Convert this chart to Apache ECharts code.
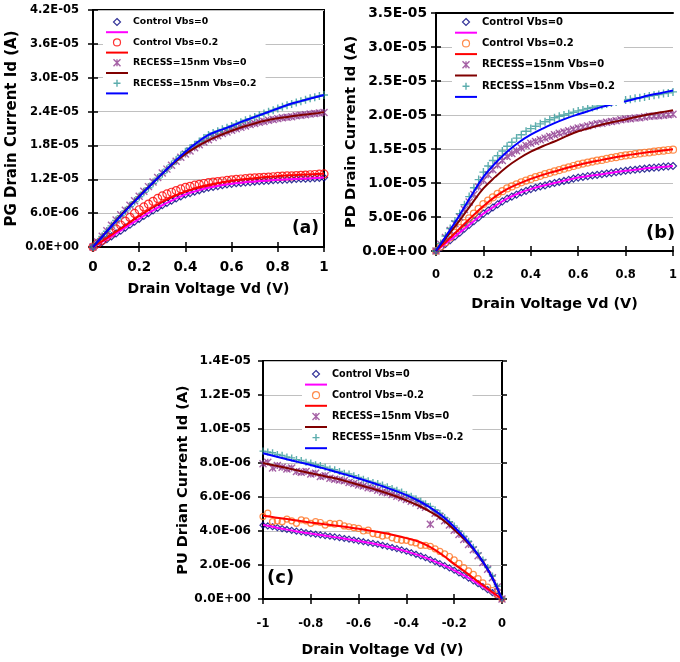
<!DOCTYPE html>
<html>
<head>
<meta charset="utf-8">
<script src="https://cdn.jsdelivr.net/npm/echarts@6/dist/echarts.min.js"></script>
<style>
html, body { margin: 0; padding: 0; background: #fff; }
#chart { width: 680px; height: 662px; }
</style>
</head>
<body>
<div id="chart"></div>
<script>
// drain voltage samples (V)
var vd = [0, 0.02, 0.04, 0.06, 0.08, 0.1, 0.12, 0.14, 0.16, 0.18,
    0.2, 0.22, 0.24, 0.26, 0.28, 0.3, 0.32, 0.34, 0.36, 0.38,
    0.4, 0.42, 0.44, 0.46, 0.48, 0.5, 0.52, 0.54, 0.56, 0.58,
    0.6, 0.62, 0.64, 0.66, 0.68, 0.7, 0.72, 0.74, 0.76, 0.78,
    0.8, 0.82, 0.84, 0.86, 0.88, 0.9, 0.92, 0.94, 0.96, 0.98, 1];
var vdNeg = [-1, -0.98, -0.96, -0.94, -0.92, -0.9, -0.88, -0.86, -0.84, -0.82,
    -0.8, -0.78, -0.76, -0.74, -0.72, -0.7, -0.68, -0.66, -0.64, -0.62,
    -0.6, -0.58, -0.56, -0.54, -0.52, -0.5, -0.48, -0.46, -0.44, -0.42,
    -0.4, -0.38, -0.36, -0.34, -0.32, -0.3, -0.28, -0.26, -0.24, -0.22,
    -0.2, -0.18, -0.16, -0.14, -0.12, -0.1, -0.08, -0.06, -0.04, -0.02, 0];
var vdFit = [0, 0.05, 0.1, 0.15, 0.2, 0.25, 0.3, 0.35, 0.4, 0.45, 0.5,
    0.55, 0.6, 0.65, 0.7, 0.75, 0.8, 0.85, 0.9, 0.95, 1];
var vdFitNeg = [-1, -0.95, -0.9, -0.85, -0.8, -0.75, -0.7, -0.65, -0.6, -0.55, -0.5,
    -0.45, -0.4, -0.35, -0.3, -0.25, -0.2, -0.15, -0.1, -0.05, 0];

// (a) PG drain current, in 1E-06 A
var pgCtrl0 = [0, 0.45, 0.9, 1.4, 1.9, 2.4, 2.9, 3.45, 3.95, 4.5,
    5.0, 5.5, 6.0, 6.5, 6.95, 7.4, 7.8, 8.2, 8.6, 8.95,
    9.3, 9.55, 9.8, 10.05, 10.3, 10.5, 10.65, 10.8, 10.95, 11.1,
    11.2, 11.3, 11.35, 11.45, 11.5, 11.6, 11.65, 11.7, 11.75, 11.85,
    11.9, 11.9, 11.95, 12.0, 12.05, 12.1, 12.1, 12.15, 12.2, 12.25, 12.3];
var pgCtrl02 = [0, 0.6, 1.2, 1.85, 2.5, 3.2, 3.9, 4.6, 5.25, 5.95,
    6.6, 7.1, 7.6, 8.1, 8.6, 9.05, 9.4, 9.7, 10.0, 10.3,
    10.55, 10.75, 10.95, 11.1, 11.25, 11.4, 11.5, 11.6, 11.7, 11.8,
    11.9, 12.0, 12.05, 12.1, 12.2, 12.25, 12.3, 12.35, 12.4, 12.45,
    12.5, 12.55, 12.6, 12.6, 12.65, 12.7, 12.75, 12.8, 12.85, 12.9, 12.95];
var pgRec0 = [0, 0.9, 1.9, 2.9, 3.85, 4.8, 5.7, 6.5, 7.4, 8.2,
    9.0, 9.9, 10.7, 11.5, 12.3, 13.1, 13.8, 14.5, 15.2, 15.9,
    16.5, 17.0, 17.6, 18.1, 18.6, 19.0, 19.4, 19.7, 20.1, 20.4,
    20.7, 20.95, 21.2, 21.45, 21.7, 21.9, 22.1, 22.25, 22.45, 22.6,
    22.75, 22.9, 23.0, 23.1, 23.25, 23.35, 23.45, 23.55, 23.65, 23.75, 23.85];
var pgRec02 = [0, 0.9, 1.85, 2.8, 3.75, 4.7, 5.55, 6.4, 7.2, 8.05,
    8.9, 9.7, 10.5, 11.3, 12.2, 13.0, 13.8, 14.6, 15.4, 16.2,
    16.9, 17.5, 18.1, 18.7, 19.3, 19.85, 20.2, 20.5, 20.85, 21.15,
    21.45, 21.8, 22.1, 22.45, 22.75, 23.05, 23.35, 23.65, 23.95, 24.25,
    24.55, 24.85, 25.1, 25.35, 25.6, 25.85, 26.1, 26.35, 26.55, 26.75, 26.95];
var pgFitCtrl0 = [0, 1.15, 2.4, 3.7, 5.0, 6.25, 7.4, 8.4, 9.3, 9.95, 10.5, 10.9, 11.2, 11.45, 11.6, 11.75, 11.9, 12.0, 12.1, 12.2, 12.3];
var pgFitCtrl02 = [0, 1.3, 2.7, 4.1, 5.5, 6.8, 8.0, 9.0, 9.8, 10.5, 11.0, 11.4, 11.75, 12.0, 12.2, 12.4, 12.55, 12.7, 12.8, 12.9, 13.0];
var pgFitRec0 = [0, 2.3, 4.7, 6.9, 9.0, 11.0, 13.0, 14.9, 16.5, 17.8, 18.9, 19.8, 20.6, 21.3, 21.9, 22.4, 22.8, 23.1, 23.4, 23.6, 23.9];
var pgFitRec02 = [0, 2.3, 4.6, 6.8, 8.9, 11.0, 13.0, 15.0, 16.9, 18.5, 19.85, 20.7, 21.45, 22.3, 23.05, 23.8, 24.55, 25.3, 25.85, 26.4, 26.95];

// (b) PD drain current, in 1E-06 A
var pdCtrl0 = [0, 0.5, 1.05, 1.6, 2.15, 2.7, 3.3, 3.85, 4.4, 4.95,
    5.5, 5.95, 6.4, 6.85, 7.3, 7.7, 8.0, 8.3, 8.6, 8.85,
    9.1, 9.3, 9.5, 9.65, 9.85, 10.0, 10.15, 10.3, 10.45, 10.65,
    10.8, 10.9, 11.0, 11.1, 11.2, 11.3, 11.4, 11.5, 11.6, 11.7,
    11.8, 11.9, 11.95, 12.05, 12.1, 12.2, 12.25, 12.3, 12.4, 12.45, 12.5];
var pdCtrl02 = [0, 0.65, 1.3, 2.0, 2.65, 3.35, 4.1, 4.8, 5.5, 6.2,
    6.9, 7.4, 7.9, 8.4, 8.8, 9.2, 9.5, 9.8, 10.1, 10.35,
    10.6, 10.85, 11.05, 11.3, 11.5, 11.7, 11.9, 12.1, 12.3, 12.5,
    12.7, 12.85, 13.0, 13.15, 13.3, 13.4, 13.55, 13.7, 13.8, 13.95,
    14.05, 14.15, 14.25, 14.35, 14.45, 14.5, 14.6, 14.7, 14.75, 14.85, 14.9];
var pdRec0 = [0, 1.0, 2.0, 3.0, 4.0, 5.0, 6.1, 7.2, 8.3, 9.4,
    10.4, 11.2, 11.95, 12.65, 13.3, 13.9, 14.35, 14.75, 15.15, 15.5,
    15.85, 16.1, 16.35, 16.6, 16.85, 17.1, 17.3, 17.5, 17.7, 17.9,
    18.1, 18.25, 18.4, 18.55, 18.7, 18.8, 18.95, 19.05, 19.15, 19.3,
    19.4, 19.45, 19.55, 19.6, 19.7, 19.8, 19.85, 19.9, 19.95, 20.05, 20.1];
var pdRec02 = [0, 1.1, 2.2, 3.3, 4.4, 5.5, 6.8, 8.0, 9.3, 10.5,
    11.6, 12.5, 13.3, 14.0, 14.7, 15.4, 16.0, 16.6, 17.1, 17.6,
    18.0, 18.35, 18.7, 19.0, 19.3, 19.6, 19.8, 20.0, 20.2, 20.4,
    20.6, 20.75, 20.95, 21.1, 21.3, 21.45, 21.6, 21.75, 21.9, 22.05,
    22.2, 22.3, 22.45, 22.55, 22.65, 22.8, 22.9, 23.0, 23.15, 23.25, 23.4];
var pdFitCtrl0 = [0, 1.35, 2.7, 4.1, 5.5, 6.65, 7.7, 8.5, 9.1, 9.6, 10.0, 10.4, 10.8, 11.05, 11.3, 11.55, 11.8, 12.0, 12.2, 12.35, 12.5];
var pdFitCtrl02 = [0, 1.6, 3.3, 5.0, 6.6, 8.0, 9.1, 9.9, 10.6, 11.2, 11.7, 12.2, 12.65, 13.05, 13.4, 13.75, 14.05, 14.3, 14.55, 14.75, 14.95];
var pdFitRec0 = [0, 2.3, 4.5, 6.9, 9.2, 10.9, 12.4, 13.6, 14.6, 15.4, 16.1, 16.9, 17.6, 18.1, 18.6, 19.0, 19.35, 19.75, 20.1, 20.4, 20.7];
var pdFitRec02 = [0, 2.6, 5.3, 8.2, 10.9, 12.9, 14.6, 16.0, 17.1, 18.0, 18.8, 19.5, 20.1, 20.65, 21.2, 21.6, 22.0, 22.45, 22.9, 23.25, 23.6];

// (c) PU drain current, in 1E-06 A (Vd from -1 to 0)
var puCtrl0 = [4.34, 4.3, 4.25, 4.2, 4.14, 4.09, 4.04, 3.99, 3.95, 3.9,
    3.85, 3.81, 3.77, 3.73, 3.69, 3.65, 3.61, 3.56, 3.52, 3.47,
    3.42, 3.37, 3.32, 3.27, 3.22, 3.16, 3.1, 3.03, 2.96, 2.89,
    2.81, 2.72, 2.63, 2.53, 2.43, 2.32, 2.2, 2.08, 1.96, 1.83,
    1.69, 1.54, 1.39, 1.23, 1.07, 0.9, 0.73, 0.55, 0.37, 0.18, 0];
var puCtrl02 = [4.85, 5.05, 4.55, 4.6, 4.55, 4.7, 4.6, 4.45, 4.65, 4.6,
    4.45, 4.55, 4.5, 4.35, 4.45, 4.4, 4.45, 4.3, 4.25, 4.2,
    4.15, 4.0, 4.05, 3.85, 3.8, 3.7, 3.75, 3.6, 3.5, 3.45,
    3.45, 3.35, 3.3, 3.15, 3.15, 3.1, 2.95, 2.8, 2.65, 2.5,
    2.3, 2.1, 1.85, 1.65, 1.45, 1.2, 0.95, 0.7, 0.5, 0.25, 0];
var puRec0 = [7.95, 8.05, 7.7, 7.85, 7.75, 7.65, 7.7, 7.5, 7.45, 7.5,
    7.35, 7.4, 7.2, 7.25, 7.1, 7.05, 7.0, 6.95, 6.85, 6.8,
    6.7, 6.65, 6.55, 6.5, 6.4, 6.3, 6.25, 6.15, 6.05, 5.95,
    5.85, 5.75, 5.65, 5.5, 5.4, 4.4, 5.05, 4.85, 4.6, 4.35,
    4.05, 3.8, 3.5, 3.2, 2.9, 2.55, 2.15, 1.75, 1.25, 0.7, 0];
var puRec02 = [8.7, 8.65, 8.6, 8.5, 8.45, 8.35, 8.3, 8.2, 8.15, 8.05,
    8.0, 7.9, 7.85, 7.75, 7.65, 7.6, 7.5, 7.4, 7.35, 7.25,
    7.15, 7.05, 6.95, 6.85, 6.8, 6.7, 6.6, 6.5, 6.4, 6.3,
    6.15, 6.05, 5.9, 5.75, 5.6, 5.45, 5.25, 5.05, 4.8, 4.55,
    4.3, 4.0, 3.7, 3.4, 3.05, 2.7, 2.3, 1.85, 1.35, 0.75, 0.05];
var puFitCtrl0 = [4.36, 4.22, 4.08, 3.96, 3.85, 3.75, 3.64, 3.53, 3.41, 3.29, 3.15, 2.99, 2.8, 2.58, 2.32, 2.02, 1.69, 1.31, 0.9, 0.46, 0];
var puFitCtrl02 = [4.9, 4.8, 4.7, 4.6, 4.5, 4.41, 4.32, 4.23, 4.13, 4.02, 3.9, 3.75, 3.58, 3.38, 3.05, 2.6, 2.05, 1.55, 1.02, 0.5, 0];
var puFitRec0 = [8.0, 7.85, 7.7, 7.55, 7.4, 7.25, 7.1, 6.92, 6.72, 6.52, 6.31, 6.07, 5.8, 5.5, 5.13, 4.68, 4.09, 3.42, 2.6, 1.5, 0];
var puFitRec02 = [8.57, 8.4, 8.22, 8.05, 7.88, 7.7, 7.5, 7.3, 7.09, 6.87, 6.63, 6.38, 6.11, 5.78, 5.38, 4.88, 4.24, 3.5, 2.6, 1.5, 0];

var FONT = 'DejaVu Sans';
var SYM_DIAMOND = 'path://M5,0L10,5L5,10L0,5Z';
var SYM_STAR = 'path://M0,0L10,10M10,0L0,10M5,0L5,10';
var SYM_PLUS = 'path://M5,0L5,10M0,5L10,5';
var SYM_BAR = 'path://M0,0L22,0L22,2L0,2Z';

var grids = [], xAxes = [], yAxes = [], series = [], legends = [], graphics = [];

// 4.2E-05 style labels (values are stored in 1E-06 A)
function sciLabel(v) {
    var s = (v * 1e-6).toExponential(1).toUpperCase();
    return s.replace(/E([+-])(\d)$/, function (m, sign, d) { return 'E' + sign + '0' + d; });
}

function legendText(name) {
    var t = name.split('|')[1];
    return t.charAt(0) === '~' ? ' ' : t;
}

function addPanel(p) {
    var gi = grids.length;
    grids.push({
        left: p.box[0], top: p.box[1], width: p.box[2], height: p.box[3],
        show: p.frame, borderColor: '#000', borderWidth: 2
    });
    var tickStyle = { color: '#000', width: 1.5 };

    // x axis, with a second one for the inner half of the ticks
    var xi = xAxes.length;
    xAxes.push({
        gridIndex: gi, type: 'value', min: p.xMin, max: p.xMax, interval: 0.2, position: 'bottom',
        name: 'Drain Voltage Vd (V)', nameLocation: 'middle', nameGap: p.xNameGap,
        nameTextStyle: { fontFamily: FONT, fontWeight: 'bold', fontSize: p.xNameSize, color: '#000' },
        axisLine: { onZero: false, lineStyle: { color: '#000', width: 2 } },
        axisTick: { length: 5, lineStyle: tickStyle },
        axisLabel: { fontFamily: FONT, fontWeight: 'bold', fontSize: p.xLabelSize, color: '#000', margin: p.xMargin },
        splitLine: { show: false }
    });
    xAxes.push({
        gridIndex: gi, type: 'value', min: p.xMin, max: p.xMax, interval: 0.2, position: 'bottom',
        axisLine: { show: false }, axisTick: { inside: true, length: 5, lineStyle: tickStyle },
        axisLabel: { show: false }, splitLine: { show: false }
    });
    if (!p.frame) {
        xAxes.push({
            gridIndex: gi, type: 'value', min: p.xMin, max: p.xMax, position: 'top',
            axisLine: { onZero: false, lineStyle: { color: '#000', width: 2 } },
            axisTick: { show: false }, axisLabel: { show: false }, splitLine: { show: false }
        });
    }

    var yi = yAxes.length;
    yAxes.push({
        gridIndex: gi, type: 'value', min: 0, max: p.yMax, interval: p.yStep, position: 'left',
        name: p.yName, nameLocation: 'middle', nameGap: p.yNameGap, nameRotate: 90,
        nameTextStyle: { fontFamily: FONT, fontWeight: 'bold', fontSize: p.yNameSize, color: '#000' },
        axisLine: { onZero: false, lineStyle: { color: '#000', width: 2 } },
        axisTick: { length: 5, lineStyle: tickStyle },
        axisLabel: { fontFamily: FONT, fontWeight: 'bold', fontSize: p.yLabelSize, color: '#000', margin: p.yMargin, formatter: sciLabel },
        splitLine: { lineStyle: { color: '#c0c0c0', width: 1 } }
    });
    yAxes.push({
        gridIndex: gi, type: 'value', min: 0, max: p.yMax, interval: p.yStep, position: 'left',
        axisLine: { show: false }, axisTick: { inside: true, length: 5, lineStyle: tickStyle },
        axisLabel: { show: false }, splitLine: { show: false }
    });

    var legendData = [];
    p.items.forEach(function (it, k) {
        var mName = p.key + '|' + it.label;
        var fName = p.key + '|~' + k;
        var mStyle = { color: 'transparent', borderColor: it.color, borderWidth: it.lw };
        series.push({
            type: 'scatter', name: mName, xAxisIndex: xi, yAxisIndex: yi,
            symbol: it.sym, symbolSize: it.size, itemStyle: mStyle,
            data: it.xs.map(function (x, i) { return [x, it.ys[i]]; }),
            silent: true
        });
        series.push({
            type: 'line', name: fName, xAxisIndex: xi, yAxisIndex: yi,
            symbol: 'none', smooth: 0.4, color: it.fitColor,
            lineStyle: { color: it.fitColor, width: 2 },
            data: it.fitXs.map(function (x, i) { return [x, it.fitYs[i]]; }),
            silent: true
        });
        legendData.push({ name: mName, icon: it.sym, itemStyle: mStyle });
        legendData.push({ name: fName, icon: SYM_BAR, itemStyle: { color: it.fitColor, borderWidth: 0 } });
    });

    legends.push({
        data: legendData, orient: 'vertical', left: p.legend[0], top: p.legend[1],
        itemWidth: 22, itemHeight: 7, itemGap: p.legendGap, selectedMode: false,
        symbolKeepAspect: true,
        backgroundColor: '#fff', padding: [3, 9, 3, 3], z: 10,
        textStyle: { fontFamily: FONT, fontWeight: 'bold', fontSize: p.legendSize, color: '#000', lineHeight: 10 },
        formatter: legendText
    });

    graphics.push({
        type: 'text', left: p.tag[0], top: p.tag[1], z: 20,
        style: { text: p.tagText, fontFamily: FONT, fontWeight: 'bold', fontSize: p.tagSize, fill: '#000' }
    });
}

addPanel({
    key: 'a', box: [93, 10, 231, 237], frame: true,
    xMin: 0, xMax: 1, xLabelSize: 13.5, xMargin: 13, xNameGap: 35, xNameSize: 14,
    yMax: 42, yStep: 6, yName: 'PG Drain Current Id (A)', yNameGap: 73, yNameSize: 15, yLabelSize: 11.5, yMargin: 14,
    legend: [103, 14], legendGap: 0.2, legendSize: 9.3,
    tag: [292, 220], tagText: '(a)', tagSize: 17,
    items: [
        { label: 'Control Vbs=0', xs: vd, ys: pgCtrl0, sym: SYM_DIAMOND, size: 7, lw: 1.2, color: '#000080', fitXs: vdFit, fitYs: pgFitCtrl0, fitColor: '#ff00ff' },
        { label: 'Control Vbs=0.2', xs: vd, ys: pgCtrl02, sym: 'circle', size: 8, lw: 1.2, color: '#ff0000', fitXs: vdFit, fitYs: pgFitCtrl02, fitColor: '#ff0000' },
        { label: 'RECESS=15nm Vbs=0', xs: vd, ys: pgRec0, sym: SYM_STAR, size: 7, lw: 1.4, color: '#8e3a8e', fitXs: vdFit, fitYs: pgFitRec0, fitColor: '#800000' },
        { label: 'RECESS=15nm Vbs=0.2', xs: vd, ys: pgRec02, sym: SYM_PLUS, size: 8, lw: 1.4, color: '#339999', fitXs: vdFit, fitYs: pgFitRec02, fitColor: '#0000ff' }
    ]
});

addPanel({
    key: 'b', box: [436, 13, 243, 238], frame: false,
    xMin: 0, xMax: 1, xLabelSize: 11.5, xMargin: 18, xNameGap: 46, xNameSize: 14.4,
    yMax: 35, yStep: 5, yName: 'PD Drain Current Id (A)', yNameGap: 76, yNameSize: 14.7, yLabelSize: 13.8, yMargin: 9,
    legend: [452, 14], legendGap: 0.7, legendSize: 10,
    tag: [646, 224], tagText: '(b)', tagSize: 18,
    items: [
        { label: 'Control Vbs=0', xs: vd, ys: pdCtrl0, sym: SYM_DIAMOND, size: 7, lw: 1.2, color: '#000080', fitXs: vdFit, fitYs: pdFitCtrl0, fitColor: '#ff00ff' },
        { label: 'Control Vbs=0.2', xs: vd, ys: pdCtrl02, sym: 'circle', size: 7, lw: 1.2, color: '#ff7020', fitXs: vdFit, fitYs: pdFitCtrl02, fitColor: '#ff0000' },
        { label: 'RECESS=15nm Vbs=0', xs: vd, ys: pdRec0, sym: SYM_STAR, size: 7, lw: 1.4, color: '#8e3a8e', fitXs: vdFit, fitYs: pdFitRec0, fitColor: '#800000' },
        { label: 'RECESS=15nm Vbs=0.2', xs: vd, ys: pdRec02, sym: SYM_PLUS, size: 8, lw: 1.4, color: '#339999', fitXs: vdFit, fitYs: pdFitRec02, fitColor: '#0000ff' }
    ]
});

addPanel({
    key: 'c', box: [263, 361, 239, 238], frame: true,
    xMin: -1, xMax: 0, xLabelSize: 11.5, xMargin: 19, xNameGap: 44, xNameSize: 14,
    yMax: 14, yStep: 2, yName: 'PU Drian Current Id (A)', yNameGap: 67, yNameSize: 14.5, yLabelSize: 12.1, yMargin: 12,
    legend: [302, 366], legendGap: 0.6, legendSize: 9.6,
    tag: [267, 569], tagText: '(c)', tagSize: 18,
    items: [
        { label: 'Control Vbs=0', xs: vdNeg, ys: puCtrl0, sym: SYM_DIAMOND, size: 6, lw: 1.2, color: '#000080', fitXs: vdFitNeg, fitYs: puFitCtrl0, fitColor: '#ff00ff' },
        { label: 'Control Vbs=-0.2', xs: vdNeg, ys: puCtrl02, sym: 'circle', size: 6, lw: 1.2, color: '#ff7020', fitXs: vdFitNeg, fitYs: puFitCtrl02, fitColor: '#ff0000' },
        { label: 'RECESS=15nm Vbs=0', xs: vdNeg, ys: puRec0, sym: SYM_STAR, size: 7, lw: 1.4, color: '#8e3a8e', fitXs: vdFitNeg, fitYs: puFitRec0, fitColor: '#800000' },
        { label: 'RECESS=15nm Vbs=-0.2', xs: vdNeg, ys: puRec02, sym: SYM_PLUS, size: 7, lw: 1.4, color: '#339999', fitXs: vdFitNeg, fitYs: puFitRec02, fitColor: '#0000ff' }
    ]
});

var chart = echarts.init(document.getElementById('chart'));
chart.setOption({
    animation: false,
    backgroundColor: '#fff',
    grid: grids,
    xAxis: xAxes,
    yAxis: yAxes,
    legend: legends,
    series: series,
    graphic: graphics
});
</script>
</body>
</html>
